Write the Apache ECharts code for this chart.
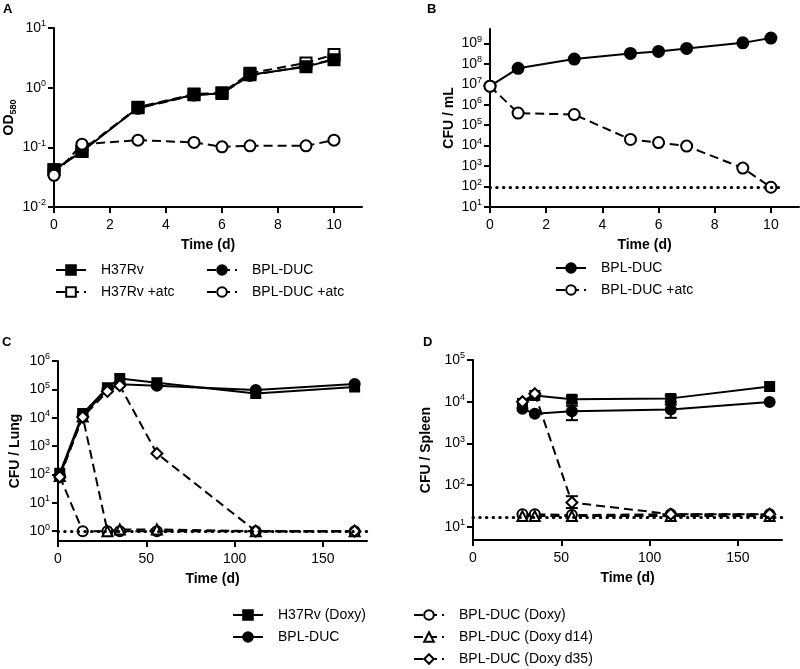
<!DOCTYPE html>
<html>
<head>
<meta charset="utf-8">
<script src="https://cdn.jsdelivr.net/npm/echarts@6/dist/echarts.min.js"></script>
<style>html,body{margin:0;padding:0;background:#fff;}#c{width:800px;height:669px;}</style>
</head>
<body>
<div id="c"></div>
<script>
// ---- Panel A: OD580 over time ----
const aTime = [0, 1, 3, 5, 6, 7, 9, 10];
const aH37Rv = [0.042, 0.085, 0.46, 0.76, 0.80, 1.65, 2.25, 2.95];
const aH37RvAtc = [0.042, 0.088, 0.47, 0.78, 0.82, 1.75, 2.6, 3.6];
const aBpl = [0.040, 0.090, 0.45, 0.75, 0.80, 1.6, 2.3, 3.0];
const aBplAtc = [0.034, 0.113, 0.132, 0.121, 0.102, 0.106, 0.106, 0.132];
const aXTicks = [0, 2, 4, 6, 8, 10];
const aYTicks = [0.01, 0.1, 1, 10];

// ---- Panel B: CFU / mL ----
const bTime = [0, 1, 3, 5, 6, 7, 9, 10];
const bBpl = [8e6, 6e7, 1.7e8, 3.2e8, 4e8, 5.6e8, 1.05e9, 1.8e9];
const bBplAtc = [8e6, 3.9e5, 3.3e5, 2e4, 1.4e4, 9.5e3, 8e2, 92];
const bLimit = 90;
const bLimitRange = [0, 10.4];
const bXTicks = [0, 2, 4, 6, 8, 10];
const bYTicks = [10, 1e2, 1e3, 1e4, 1e5, 1e6, 1e7, 1e8, 1e9];

// ---- Panel C: CFU / Lung ----
const cTime = [1, 14, 28, 35, 56, 112, 168];
const cH37Rv = [110, 1.4e4, 1.15e5, 2.4e5, 1.7e5, 7.2e4, 1.2e5];
const cBpl = [90, 1.2e4, 1.0e5, 1.5e5, 1.35e5, 9.5e4, 1.55e5];
const cDoxy = [85, 1, 1, 1, 1, 1, 1];
const cDoxy14 = [88, 1.1e4, 1, 1.15, 1.15, 1, 1];
const cDoxy35 = [82, 1.05e4, 8.5e4, 1.35e5, 550, 1, 1];
const cLimit = 1;
const cXTicks = [0, 50, 100, 150];
const cYTicks = [1, 10, 1e2, 1e3, 1e4, 1e5, 1e6];

// ---- Panel D: CFU / Spleen ----
const dTime = [28, 35, 56, 112, 168];
const dH37Rv = [9e3, 1.4e4, 1.15e4, 1.2e4, 2.3e4];
const dBpl = [6.8e3, 5.1e3, 5.9e3, 6.5e3, 9.8e3];
const dDoxy = [20, 20, 19, 20, 20];
const dDoxy14 = [18, 18, 18, 18, 18];
const dDoxy35 = [1e4, 1.55e4, 38, 20, 20];
// error bars: [time, low, high]
const dErrH37Rv = [[56, 8e3, 1.35e4], [112, 8.5e3, 1.4e4]];
const dErrBpl = [[56, 3.6e3, 9.5e3], [112, 4.1e3, 1.0e4]];
const dErrDoxy35 = [[56, 28, 54]];
const dLimit = 17;
const dXTicks = [0, 50, 100, 150];
const dYTicks = [10, 1e2, 1e3, 1e4, 1e5];

const FONT = 'Liberation Sans, Arial, Helvetica, sans-serif';
const grids = [
  {left: 54, top: 28, width: 308, height: 179},
  {left: 490, top: 29, width: 309, height: 178},
  {left: 58, top: 361, width: 309, height: 180},
  {left: 473, top: 360, width: 309, height: 180}
];

function pairs(xs, ys) { return xs.map((x, i) => [x, ys[i]]); }

function mk(name, gi, xs, ys, symbol, filled, dashed, size) {
  return {
    name: name, type: 'line', xAxisIndex: gi, yAxisIndex: gi,
    data: pairs(xs, ys), symbol: symbol, symbolSize: size, showSymbol: true,
    itemStyle: {color: filled ? '#000' : '#fff', borderColor: '#000', borderWidth: 2, opacity: 1},
    lineStyle: {color: '#000', width: 2, type: dashed ? [9, 5] : 'solid'},
    emphasis: {disabled: true}, animation: false, silent: true
  };
}

function supFmt(v) {
  const e = Math.round(Math.log10(v));
  return '{b|10}{s|' + e + '}';
}
const richSup = {
  b: {fontSize: 14, color: '#000', fontFamily: FONT},
  s: {fontSize: 9, color: '#000', fontFamily: FONT, padding: [0, 0, 8, 0]}
};

function xAxis(gi, max, ticks) {
  return {
    gridIndex: gi, type: 'value', min: 0, max: max,
    axisLine: {show: true, onZero: false, lineStyle: {color: '#000', width: 2}},
    axisTick: {show: true, length: 6, lineStyle: {color: '#000', width: 2}, customValues: ticks},
    axisLabel: {fontSize: 14, color: '#000', fontFamily: FONT, margin: 11, customValues: ticks},
    splitLine: {show: false},
    name: 'Time (d)', nameLocation: 'middle', nameGap: 31,
    nameTextStyle: {fontSize: 14, fontWeight: 'bold', color: '#000', fontFamily: FONT}
  };
}
function yAxis(gi, min, max, ticks, name, gap, rich) {
  return {
    gridIndex: gi, type: 'log', logBase: 10, min: min, max: max,
    axisLine: {show: true, onZero: false, lineStyle: {color: '#000', width: 2}},
    axisTick: {show: true, length: 6, lineStyle: {color: '#000', width: 2}, customValues: ticks},
    axisLabel: {color: '#000', fontFamily: FONT, margin: 8, customValues: ticks, formatter: supFmt, rich: richSup},
    splitLine: {show: false}, minorTick: {show: false},
    name: name, nameLocation: 'middle', nameGap: gap,
    nameTextStyle: Object.assign({fontSize: 14, fontWeight: 'bold', color: '#000', fontFamily: FONT}, rich ? {rich: rich} : {})
  };
}

const dotted = {color: '#000', width: 3, type: [0.5, 6.2], cap: 'round'};

function errSeries(gi, data) {
  return {
    type: 'custom', xAxisIndex: gi, yAxisIndex: gi, data: data, silent: true, animation: false,
    renderItem: function (params, api) {
      const x = api.value(0), lo = api.value(1), hi = api.value(2);
      const p1 = api.coord([x, lo]), p2 = api.coord([x, hi]);
      const st = {stroke: '#000', lineWidth: 2};
      return {type: 'group', children: [
        {type: 'line', shape: {x1: p1[0], y1: p1[1], x2: p2[0], y2: p2[1]}, style: st},
        {type: 'line', shape: {x1: p1[0] - 6, y1: p1[1], x2: p1[0] + 6, y2: p1[1]}, style: st},
        {type: 'line', shape: {x1: p2[0] - 6, y1: p2[1], x2: p2[0] + 6, y2: p2[1]}, style: st}
      ]};
    }
  };
}

const series = [];
// A
series.push(mk('A|BPL-DUC', 0, aTime, aBpl, 'circle', true, true, 11));
series.push(mk('A|H37Rv +atc', 0, aTime, aH37RvAtc, 'rect', false, true, 11));
series.push(mk('A|H37Rv', 0, aTime, aH37Rv, 'rect', true, false, 11));
series.push(mk('A|BPL-DUC +atc', 0, aTime, aBplAtc, 'circle', false, true, 11));
// B
const bAtc = mk('B|BPL-DUC +atc', 1, bTime, bBplAtc, 'circle', false, true, 11);
bAtc.markLine = {symbol: 'none', silent: true, label: {show: false}, lineStyle: dotted, animation: false,
  data: [[{coord: [bLimitRange[0], bLimit]}, {coord: [bLimitRange[1], bLimit]}]]};
const bMain = mk('B|BPL-DUC', 1, bTime, bBpl, 'circle', true, false, 11);
series.push(bMain, bAtc);
// C
const cH = mk('C|H37Rv (Doxy)', 2, cTime, cH37Rv, 'rect', true, false, 9);
cH.markLine = {symbol: 'none', silent: true, label: {show: false}, lineStyle: dotted, animation: false,
  data: [{yAxis: cLimit}]};
series.push(cH);
series.push(mk('C|BPL-DUC', 2, cTime, cBpl, 'circle', true, false, 10));
series.push(mk('C|BPL-DUC (Doxy)', 2, cTime, cDoxy, 'circle', false, true, 10));
series.push(mk('C|BPL-DUC (Doxy d14)', 2, cTime, cDoxy14, 'triangle', false, true, 10));
series.push(mk('C|BPL-DUC (Doxy d35)', 2, cTime, cDoxy35, 'diamond', false, true, 11));
// D
series.push(errSeries(3, dErrH37Rv), errSeries(3, dErrBpl), errSeries(3, dErrDoxy35));
const dH = mk('D|H37Rv (Doxy)', 3, dTime, dH37Rv, 'rect', true, false, 9);
dH.markLine = {symbol: 'none', silent: true, label: {show: false}, lineStyle: dotted, animation: false,
  data: [{yAxis: dLimit}]};
series.push(dH);
series.push(mk('D|BPL-DUC', 3, dTime, dBpl, 'circle', true, false, 10));
series.push(mk('D|BPL-DUC (Doxy)', 3, dTime, dDoxy, 'circle', false, true, 10));
series.push(mk('D|BPL-DUC (Doxy d14)', 3, dTime, dDoxy14, 'triangle', false, true, 10));
series.push(mk('D|BPL-DUC (Doxy d35)', 3, dTime, dDoxy35, 'diamond', false, true, 11));

function legend(left, top, names) {
  return {
    left: left, top: top, orient: 'vertical', data: names, itemWidth: 30, itemHeight: 12, itemGap: 8,
    padding: 0, selectedMode: false, formatter: n => n.split('|')[1],
    textStyle: {fontSize: 14, color: '#000', fontFamily: FONT, padding: [0, 0, 0, 10]}
  };
}

const panelLabel = (t, x, y) => ({type: 'text', left: x, top: y,
  style: {text: t, font: 'bold 13px ' + FONT, fill: '#000'}});

const option = {
  animation: false,
  backgroundColor: '#fff',
  grid: grids,
  xAxis: [xAxis(0, 11, aXTicks), xAxis(1, 11, bXTicks), xAxis(2, 175, cXTicks), xAxis(3, 175, dXTicks)],
  yAxis: [
    yAxis(0, 0.01, 10, aYTicks, 'OD{sub|580}', 36, {sub: {fontSize: 9, fontWeight: 'bold', fontFamily: FONT, padding: [8, 0, 0, 0]}}),
    yAxis(1, 10, 5e9, bYTicks, 'CFU / mL', 34),
    yAxis(2, 0.45, 1e6, cYTicks, 'CFU / Lung', 36),
    yAxis(3, 4.8, 1e5, dYTicks, 'CFU / Spleen', 40)
  ],
  legend: [
    legend(55, 263, ['A|H37Rv', 'A|H37Rv +atc']),
    legend(206, 263, ['A|BPL-DUC', 'A|BPL-DUC +atc']),
    legend(555, 261, ['B|BPL-DUC', 'B|BPL-DUC +atc']),
    legend(232, 608, ['C|H37Rv (Doxy)', 'C|BPL-DUC']),
    legend(413, 608, ['C|BPL-DUC (Doxy)', 'C|BPL-DUC (Doxy d14)', 'C|BPL-DUC (Doxy d35)'])
  ],
  graphic: [panelLabel('A', 3, 3), panelLabel('B', 427, 3), panelLabel('C', 2, 336), panelLabel('D', 423, 336)],
  series: series
};

const chart = echarts.init(document.getElementById('c'), null, {renderer: 'canvas'});
chart.setOption(option);
</script>
</body>
</html>
